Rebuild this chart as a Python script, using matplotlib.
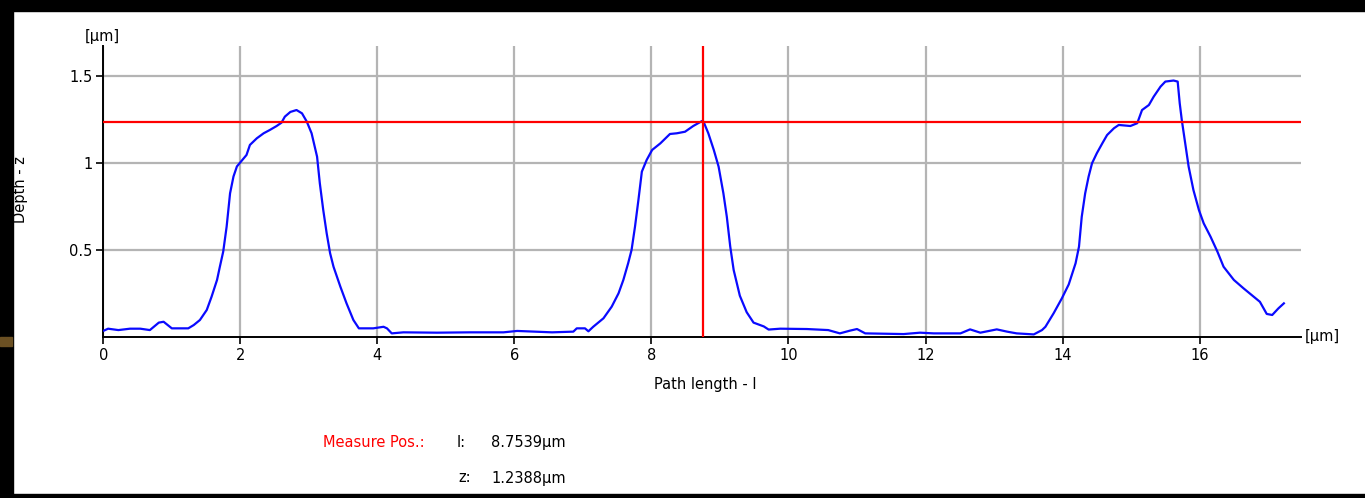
import matplotlib
matplotlib.use('Agg')
import matplotlib.pyplot as plt
from matplotlib.patches import Rectangle

# profile (path length / depth, in um)
path_um = [0.01, 0.07, 0.22, 0.39, 0.54, 0.68, 0.81, 0.88, 1.0, 1.24, 1.32, 1.41,
           1.51, 1.58, 1.66, 1.70, 1.75, 1.80, 1.85, 1.90, 1.95, 2.02, 2.09, 2.14,
           2.24, 2.34, 2.43, 2.53, 2.60, 2.65, 2.73, 2.82, 2.90, 2.97, 3.04, 3.12,
           3.16, 3.21, 3.26, 3.31, 3.36, 3.46, 3.55, 3.65, 3.73, 3.94, 4.09, 4.14,
           4.21, 4.38, 4.87, 5.35, 5.84, 6.04, 6.55, 6.86, 6.91, 7.03, 7.08, 7.15,
           7.30, 7.42, 7.52, 7.59, 7.66, 7.71, 7.76, 7.81, 7.86, 7.93, 8.01, 8.13,
           8.27, 8.37, 8.49, 8.61, 8.74, 8.76, 8.83, 8.91, 8.98, 9.05, 9.10, 9.15,
           9.20, 9.29, 9.39, 9.49, 9.64, 9.71, 9.88, 10.27, 10.58, 10.75, 10.90,
           11.0, 11.12, 11.68, 11.92, 12.12, 12.51, 12.65, 12.80, 13.04, 13.19,
           13.33, 13.58, 13.70, 13.75, 13.87, 13.99, 14.09, 14.19, 14.24, 14.28,
           14.33, 14.38, 14.43, 14.50, 14.58, 14.65, 14.75, 14.82, 14.99, 15.09,
           15.16, 15.26, 15.33, 15.43, 15.50, 15.62, 15.68, 15.71, 15.74, 15.79,
           15.84, 15.91, 15.99, 16.06, 16.16, 16.26, 16.35, 16.50, 16.64, 16.79,
           16.88, 16.98, 17.06, 17.15, 17.23]
depth_um = [0.034, 0.045, 0.037, 0.045, 0.045, 0.037, 0.08, 0.085, 0.047, 0.047,
            0.066, 0.095, 0.153, 0.229, 0.326, 0.40, 0.489, 0.633, 0.825, 0.922,
            0.98, 1.013, 1.046, 1.104, 1.142, 1.171, 1.19, 1.213, 1.232, 1.267,
            1.294, 1.305, 1.286, 1.238, 1.171, 1.036, 0.883, 0.729, 0.595, 0.48,
            0.402, 0.287, 0.191, 0.095, 0.047, 0.047, 0.056, 0.047, 0.018, 0.024,
            0.022, 0.024, 0.024, 0.032, 0.024, 0.028, 0.047, 0.047, 0.030, 0.056,
            0.105, 0.172, 0.249, 0.326, 0.422, 0.499, 0.633, 0.787, 0.95, 1.017,
            1.075, 1.113, 1.167, 1.171, 1.18, 1.213, 1.242, 1.238, 1.171, 1.075,
            0.979, 0.825, 0.69, 0.518, 0.383, 0.235, 0.14, 0.08, 0.058, 0.04,
            0.045, 0.043, 0.037, 0.018, 0.034, 0.043, 0.018, 0.014, 0.022, 0.018,
            0.018, 0.041, 0.022, 0.041, 0.028, 0.018, 0.012, 0.037, 0.056, 0.134,
            0.22, 0.3, 0.422, 0.518, 0.69, 0.825, 0.921, 0.998, 1.056, 1.113,
            1.161, 1.2, 1.219, 1.213, 1.229, 1.305, 1.334, 1.382, 1.44, 1.469,
            1.475, 1.469, 1.344, 1.248, 1.113, 0.979, 0.844, 0.729, 0.652, 0.575,
            0.489, 0.402, 0.326, 0.278, 0.229, 0.2, 0.13, 0.124, 0.162, 0.191]

x_ticks = [0, 2, 4, 6, 8, 10, 12, 14, 16]
y_ticks = [0.5, 1, 1.5]
y_tick_labels = ['0.5', '1', '1.5']

measure_l = 8.7539
measure_z = 1.2388

W, H = 1365, 498
fig = plt.figure(figsize=(W / 100, H / 100), dpi=100)
fig.patch.set_facecolor('white')

def fx(px):
    return px / W

def fy(py):
    return 1 - py / H

# black frame around the screenshot
fig.patches.append(Rectangle((0, fy(11)), 1, 11 / H, transform=fig.transFigure,
                             color='black', zorder=0))
fig.patches.append(Rectangle((0, 0), fx(13), 1, transform=fig.transFigure,
                             color='black', zorder=0))
fig.patches.append(Rectangle((0, 0), 1, 4 / H, transform=fig.transFigure,
                             color='black', zorder=0))
fig.patches.append(Rectangle((0, fy(346)), fx(12), 9 / H, transform=fig.transFigure,
                             color='#6b5023', zorder=1))

ax = fig.add_axes([fx(103.3), fy(336.5), (1301 - 103.3) / W, (336.5 - 46) / H])
ax.plot(path_um, depth_um, color='#0a0aff', linewidth=1.6, zorder=3)
ax.axvline(measure_l, color='#ff0000', linewidth=1.6, zorder=4)
ax.axhline(measure_z, color='#ff0000', linewidth=1.6, zorder=4)

ax.set_xlim(0, 17.48)
ax.set_ylim(0, 1.674)
ax.set_xticks(x_ticks)
ax.set_yticks(y_ticks)
ax.set_yticklabels(y_tick_labels)
ax.grid(True, color='#b4b4b4', linewidth=1.6)
ax.set_axisbelow(True)
for side in ['top', 'right']:
    ax.spines[side].set_visible(False)
for side in ['left', 'bottom']:
    ax.spines[side].set_linewidth(1.4)
ax.tick_params(direction='out', length=5, width=1.2, labelsize=10.5, pad=3)

fs = 10.5
fig.text(fx(102), fy(36), '[µm]', ha='center', va='center', fontsize=fs)
fig.text(fx(1305), fy(336), '[µm]', ha='left', va='center', fontsize=fs)
fig.text(fx(20), fy(190), 'Depth - z', ha='center', va='center', rotation=90,
         fontsize=fs)
fig.text(fx(705), fy(385), 'Path length - l', ha='center', va='center', fontsize=fs)

fig.text(fx(323), fy(442), 'Measure Pos.:', ha='left', va='center', fontsize=fs,
         color='#ff0000')
fig.text(fx(457), fy(442), 'l:', ha='left', va='center', fontsize=fs)
fig.text(fx(491), fy(442), '%.4fµm' % measure_l, ha='left', va='center', fontsize=fs)
fig.text(fx(458), fy(478), 'z:', ha='left', va='center', fontsize=fs)
fig.text(fx(491), fy(478), '%.4fµm' % measure_z, ha='left', va='center', fontsize=fs)

fig.savefig('out.png', dpi=100, facecolor='white')
